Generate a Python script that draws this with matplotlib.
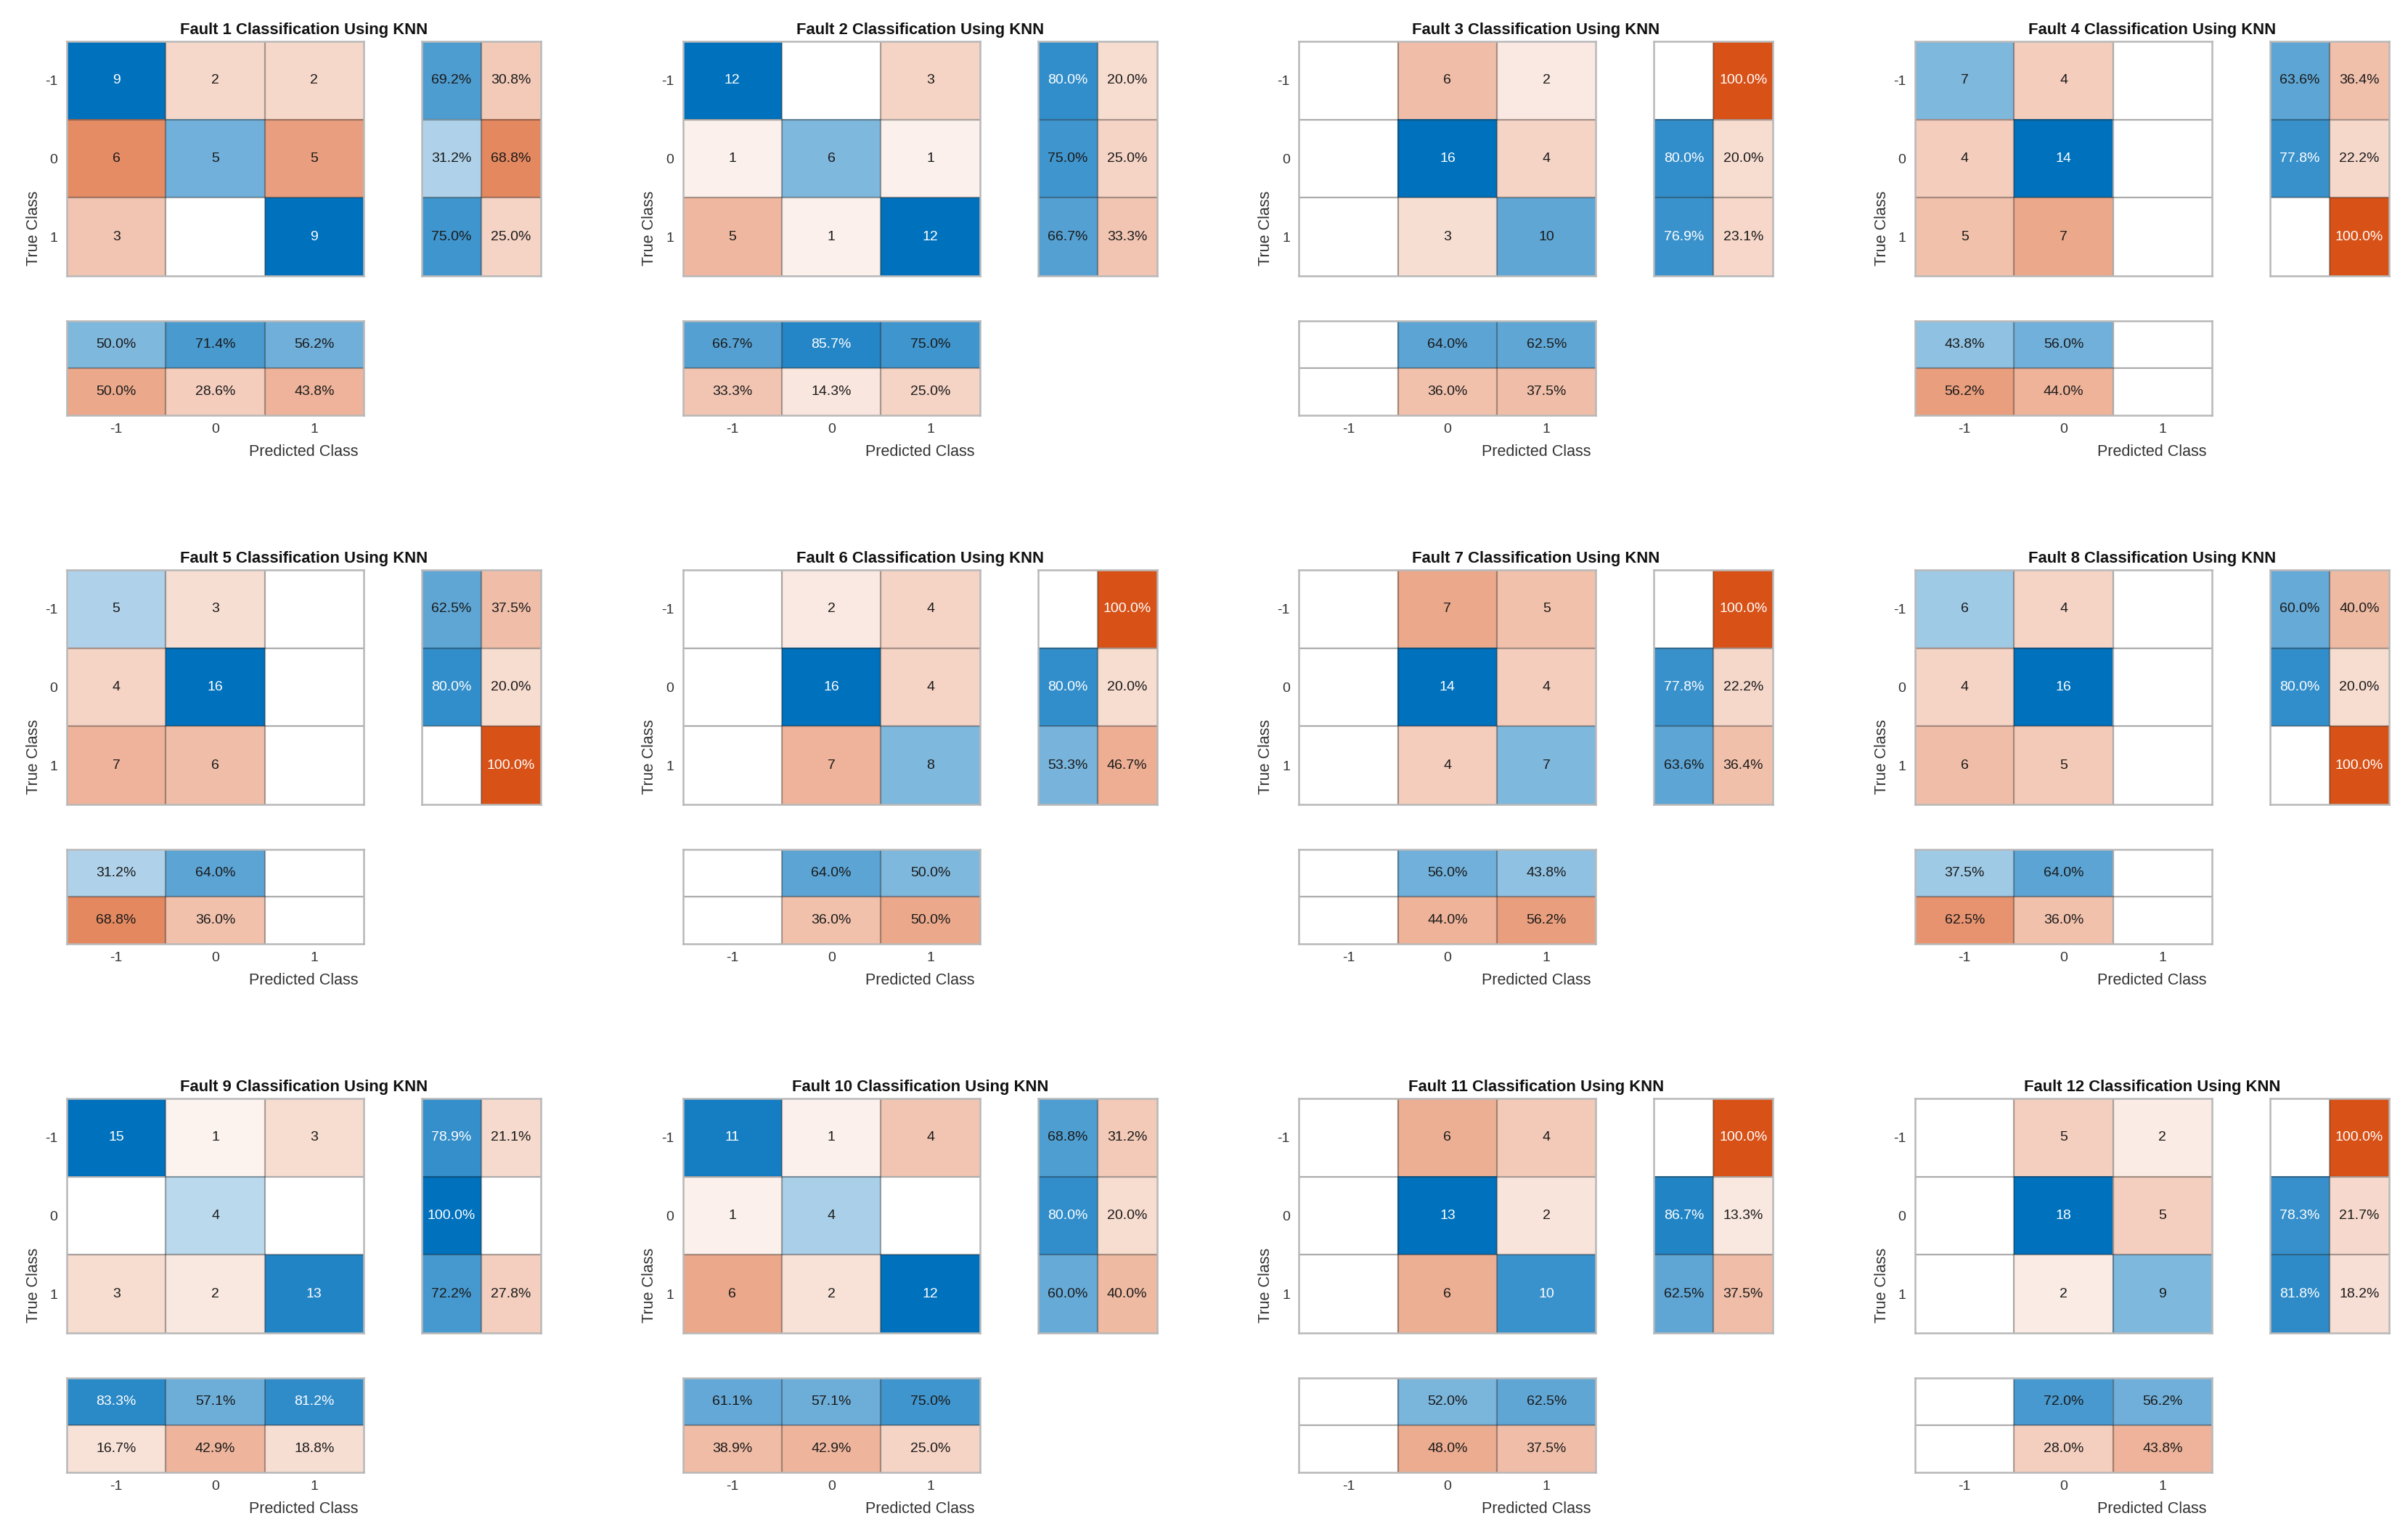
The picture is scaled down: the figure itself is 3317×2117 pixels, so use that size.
import numpy as np
import matplotlib
matplotlib.use('Agg')
import matplotlib.pyplot as plt

plt.rcParams['font.family'] = ['Liberation Sans', 'DejaVu Sans']

# ---------------- data ----------------
classes = ['-1', '0', '1']
fault_ids = list(range(1, 13))

cm_fault1 = [[9, 2, 2], [6, 5, 5], [3, 0, 9]]
cm_fault2 = [[12, 0, 3], [1, 6, 1], [5, 1, 12]]
cm_fault3 = [[0, 6, 2], [0, 16, 4], [0, 3, 10]]
cm_fault4 = [[7, 4, 0], [4, 14, 0], [5, 7, 0]]
cm_fault5 = [[5, 3, 0], [4, 16, 0], [7, 6, 0]]
cm_fault6 = [[0, 2, 4], [0, 16, 4], [0, 7, 8]]
cm_fault7 = [[0, 7, 5], [0, 14, 4], [0, 4, 7]]
cm_fault8 = [[6, 4, 0], [4, 16, 0], [6, 5, 0]]
cm_fault9 = [[15, 1, 3], [0, 4, 0], [3, 2, 13]]
cm_fault10 = [[11, 1, 4], [1, 4, 0], [6, 2, 12]]
cm_fault11 = [[0, 6, 4], [0, 13, 2], [0, 6, 10]]
cm_fault12 = [[0, 5, 2], [0, 18, 5], [0, 2, 9]]

matrices = [cm_fault1, cm_fault2, cm_fault3, cm_fault4, cm_fault5, cm_fault6,
            cm_fault7, cm_fault8, cm_fault9, cm_fault10, cm_fault11, cm_fault12]

# ---------------- style ----------------
W, H = 3317, 2117
DPI = 100
BLUE = np.array([0.0, 0.4470, 0.7410])
ORANGE = np.array([0.8500, 0.3250, 0.0980])
TXT = '#333333'
GRID = (0.15, 0.15, 0.15, 0.38)
BORDER = '#b8b8b8'
FS_CELL = 14
FS_TICK = 14
FS_LABEL = 15.5
FS_TITLE = 15.8


def shade(t, base):
    return 1.0 - t * (1.0 - base)


def text_color(rgb):
    lum = 0.299 * rgb[0] + 0.587 * rgb[1] + 0.114 * rgb[2]
    return 'white' if lum < 0.5 else '#1a1a1a'


fig = plt.figure(figsize=(W / DPI, H / DPI), dpi=DPI)


def add_ax(x, y, w, h):
    return fig.add_axes([x / W, 1 - (y + h) / H, w / W, h / H])


def style_ax(ax, nrows, ncols):
    ax.set_xlim(-0.5, ncols - 0.5)
    ax.set_ylim(nrows - 0.5, -0.5)
    for s in ax.spines.values():
        s.set_color(BORDER)
        s.set_linewidth(1.8)
    for k in range(1, ncols):
        ax.axvline(k - 0.5, color=GRID, lw=1.6)
    for k in range(1, nrows):
        ax.axhline(k - 0.5, color=GRID, lw=1.6)
    ax.set_xticks([])
    ax.set_yticks([])


def fill_cells(ax, values, colors, labels):
    nr, nc = len(values), len(values[0])
    img = np.ones((nr, nc, 3))
    for i in range(nr):
        for j in range(nc):
            img[i, j] = colors[i][j]
    ax.imshow(img, aspect='auto', extent=(-0.5, nc - 0.5, nr - 0.5, -0.5),
              interpolation='nearest')
    for i in range(nr):
        for j in range(nc):
            if labels[i][j]:
                ax.text(j, i, labels[i][j], ha='center', va='center',
                        fontsize=FS_CELL, color=text_color(colors[i][j]))


col_x0 = 92
col_step = 848.7
row_y0 = 57
row_step = 728
MW, MH = 409, 323          # main matrix size
RS_DX, RS_W = 489, 164      # row summary offset / width
CS_DY, CS_H = 385, 130      # column summary offset / height

for idx, (fid, cm) in enumerate(zip(fault_ids, matrices)):
    cm = np.array(cm, dtype=float)
    r, c = divmod(idx, 4)
    L = col_x0 + c * col_step
    T = row_y0 + r * row_step
    n = len(classes)

    # ---- main matrix ----
    ax = add_ax(L, T, MW, MH)
    vmax = cm.max()
    colors = [[np.ones(3) for _ in range(n)] for _ in range(n)]
    labels = [['' for _ in range(n)] for _ in range(n)]
    for i in range(n):
        for j in range(n):
            v = cm[i, j]
            if v > 0:
                base = BLUE if i == j else ORANGE
                colors[i][j] = shade(v / vmax, base)
                labels[i][j] = f'{int(v)}'
    fill_cells(ax, cm, colors, labels)
    style_ax(ax, n, n)
    ax.set_yticks(range(n))
    ax.set_yticklabels(classes, fontsize=FS_TICK, color=TXT)
    ax.tick_params(axis='y', length=0, pad=9)

    # ---- row summary ----
    axr = add_ax(L + RS_DX, T, RS_W, MH)
    rs_vals = []
    rs_cols = []
    rs_labs = []
    for i in range(n):
        tot = cm[i].sum()
        row_v, row_c, row_l = [], [], []
        if tot > 0:
            pc = 100 * cm[i, i] / tot
            pw = 100 - pc
            for p, base in ((pc, BLUE), (pw, ORANGE)):
                row_v.append(p)
                if p > 0:
                    row_c.append(shade(p / 100, base))
                    row_l.append(f'{p:.1f}%')
                else:
                    row_c.append(np.ones(3))
                    row_l.append('')
        else:
            row_v = [0, 0]
            row_c = [np.ones(3), np.ones(3)]
            row_l = ['', '']
        rs_vals.append(row_v)
        rs_cols.append(row_c)
        rs_labs.append(row_l)
    fill_cells(axr, rs_vals, rs_cols, rs_labs)
    style_ax(axr, n, 2)

    # ---- column summary ----
    axc = add_ax(L, T + CS_DY, MW, CS_H)
    cs_vals = [[0] * n, [0] * n]
    cs_cols = [[np.ones(3) for _ in range(n)] for _ in range(2)]
    cs_labs = [['' for _ in range(n)] for _ in range(2)]
    for j in range(n):
        tot = cm[:, j].sum()
        if tot > 0:
            pc = 100 * cm[j, j] / tot
            pw = 100 - pc
            for k, (p, base) in enumerate(((pc, BLUE), (pw, ORANGE))):
                cs_vals[k][j] = p
                if p > 0:
                    cs_cols[k][j] = shade(p / 100, base)
                    cs_labs[k][j] = f'{p:.1f}%'
    fill_cells(axc, cs_vals, cs_cols, cs_labs)
    style_ax(axc, 2, n)
    axc.set_xticks(range(n))
    axc.set_xticklabels(classes, fontsize=FS_TICK, color=TXT)
    axc.tick_params(axis='x', length=0, pad=8)

    # ---- labels / title ----
    full_w = RS_DX + RS_W
    full_h = CS_DY + CS_H
    cx = (L + full_w / 2) / W
    fig.text(cx, 1 - (T - 16) / H, f'Fault {fid} Classification Using KNN',
             ha='center', va='center', fontsize=FS_TITLE, fontweight='bold',
             color='#111111')
    fig.text(cx, 1 - (T + full_h + 50) / H, 'Predicted Class', ha='center',
             va='center', fontsize=FS_LABEL, color=TXT)
    fig.text((L - 46) / W, 1 - (T + full_h / 2) / H, 'True Class', ha='center',
             va='center', rotation=90, fontsize=FS_LABEL, color=TXT)

fig.savefig('out.png', dpi=DPI, facecolor='white')
